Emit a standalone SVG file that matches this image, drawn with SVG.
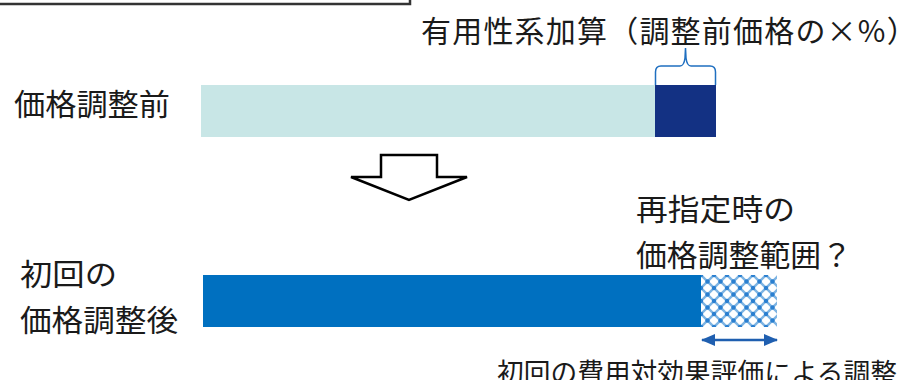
<svg xmlns="http://www.w3.org/2000/svg" width="908" height="380" viewBox="0 0 908 380">
<style>
.t{font-family:"Noto Sans CJK JP","Noto Sans",sans-serif;fill:#1a1a1a;}
</style>
<defs>
<pattern id="hatch" patternUnits="userSpaceOnUse" width="13" height="13" x="701" y="275">
<rect width="13" height="13" fill="#ffffff"/>
<path d="M0,0 L13,13 M13,0 L0,13" stroke="#7db4e3" stroke-width="2.4"/>
<circle cx="6.5" cy="6.5" r="2.2" fill="#2a7fd0"/>
<circle cx="0" cy="0" r="2.2" fill="#2a7fd0"/>
<circle cx="13" cy="0" r="2.2" fill="#2a7fd0"/>
<circle cx="0" cy="13" r="2.2" fill="#2a7fd0"/>
<circle cx="13" cy="13" r="2.2" fill="#2a7fd0"/>
</pattern>
<marker id="ah" viewBox="0 0 14 12" refX="13" refY="6" markerWidth="14" markerHeight="12" orient="auto-start-reverse" markerUnits="userSpaceOnUse">
<path d="M0,0 L14,6 L0,12 Z" fill="#1f5fb0"/>
</marker>
</defs>

<g id="topframe">
<path d="M-2,4 L410,4 L410,-2" fill="none" stroke="#333333" stroke-width="2.5"/>
</g>

<g id="label-bonus">
<text class="t" x="421" y="42" font-size="30" letter-spacing="1.2">有用性系加算（調整前価格の×%）</text>
</g>

<g id="before">
<text class="t" x="14" y="115" font-size="30" textLength="156" lengthAdjust="spacingAndGlyphs">価格調整前</text>
<rect x="201" y="85" width="454" height="52" fill="#c8e6e6"/>
<rect x="655" y="85" width="61" height="52" fill="#133183"/>
</g>

<g id="after">
<text class="t" x="20" y="285" font-size="30" textLength="97" lengthAdjust="spacingAndGlyphs">初回の</text>
<text class="t" x="20" y="331" font-size="30" textLength="158" lengthAdjust="spacingAndGlyphs">価格調整後</text>
<rect x="203" y="275" width="498" height="52" fill="#0070c0"/>
<rect x="701" y="275" width="76" height="52" fill="url(#hatch)"/>
</g>

<g id="question">
<text class="t" x="636" y="220" font-size="30" textLength="159" lengthAdjust="spacingAndGlyphs">再指定時の</text>
<text class="t" x="636" y="266" font-size="30" textLength="216" lengthAdjust="spacingAndGlyphs">価格調整範囲？</text>
</g>

<g id="label-first">
<text class="t" x="497" y="383" font-size="27" textLength="400" lengthAdjust="spacingAndGlyphs">初回の費用対効果評価による調整</text>
</g>

<g id="connectors">
<path d="M655.5,85 L655.5,72 Q655.5,66 661,66 L680,66 Q684,66 685,58 L685.5,48 L686,58 Q687,66 691,66 L710,66 Q715.5,66 715.5,72 L715.5,85" fill="none" stroke="#1f6fc0" stroke-width="1.5"/>
<path d="M381,155 L437,155 L437,177 L467,177 L409,200 L351,177 L381,177 Z" fill="#ffffff" stroke="#000000" stroke-width="2.5" stroke-linejoin="miter"/>
<line x1="702" y1="340" x2="777" y2="340" stroke="#1f5fb0" stroke-width="2.5" marker-start="url(#ah)" marker-end="url(#ah)"/>
</g>
</svg>
